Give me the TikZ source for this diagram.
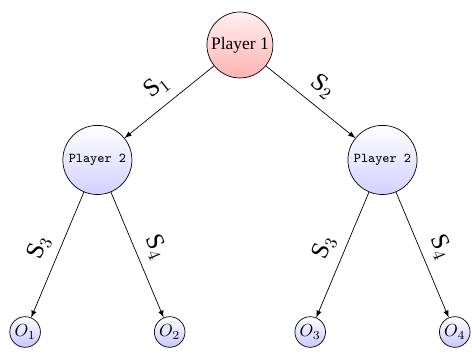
\documentclass[tikz,border=0pt]{standalone}
\usepackage{fontspec}
\setmainfont{Liberation Serif}

\begin{document}
\begin{tikzpicture}[
  player1/.style={circle,draw,top color=red!6,bottom color=red!30,minimum size=37.7pt,inner sep=1pt},
  player2/.style={circle,draw,top color=white,bottom color=blue!18,minimum size=39.5pt,inner sep=1pt,font=\fontsize{7.7}{9}\ttfamily},
  outcome/.style={circle,draw,top color=white,bottom color=blue!22,minimum size=17.5pt,inner sep=0.5pt},
  move/.style={above=2pt,sloped,font=\Large},
  level 1/.style={level distance=65.7pt,sibling distance=162.9pt},
  level 2/.style={level distance=98.3pt,sibling distance=82.6pt},
  edge from parent/.style={draw,-latex}
]
\useasboundingbox (-137.1pt,25.7pt) rectangle (132.6pt,-177.1pt);
\node[player1] (p1) {Player 1}
child { node[player2] (p2a) {Player 2}
	child { node[outcome] (o1) {$O_1$} edge from parent node[move] {S$_3$} }
	child { node[outcome] (o2) {$O_2$} edge from parent node[move] {S$_4$} }
	edge from parent node[move] {S$_1$}
}
child { node[player2] (p2b) {Player 2}
	child { node[outcome] (o3) {$O_3$} edge from parent node[move] {S$_3$} }
	child { node[outcome] (o4) {$O_4$} edge from parent node[move] {S$_4$} }
	edge from parent node[move] {S$_2$}
};
\end{tikzpicture}
\end{document}
